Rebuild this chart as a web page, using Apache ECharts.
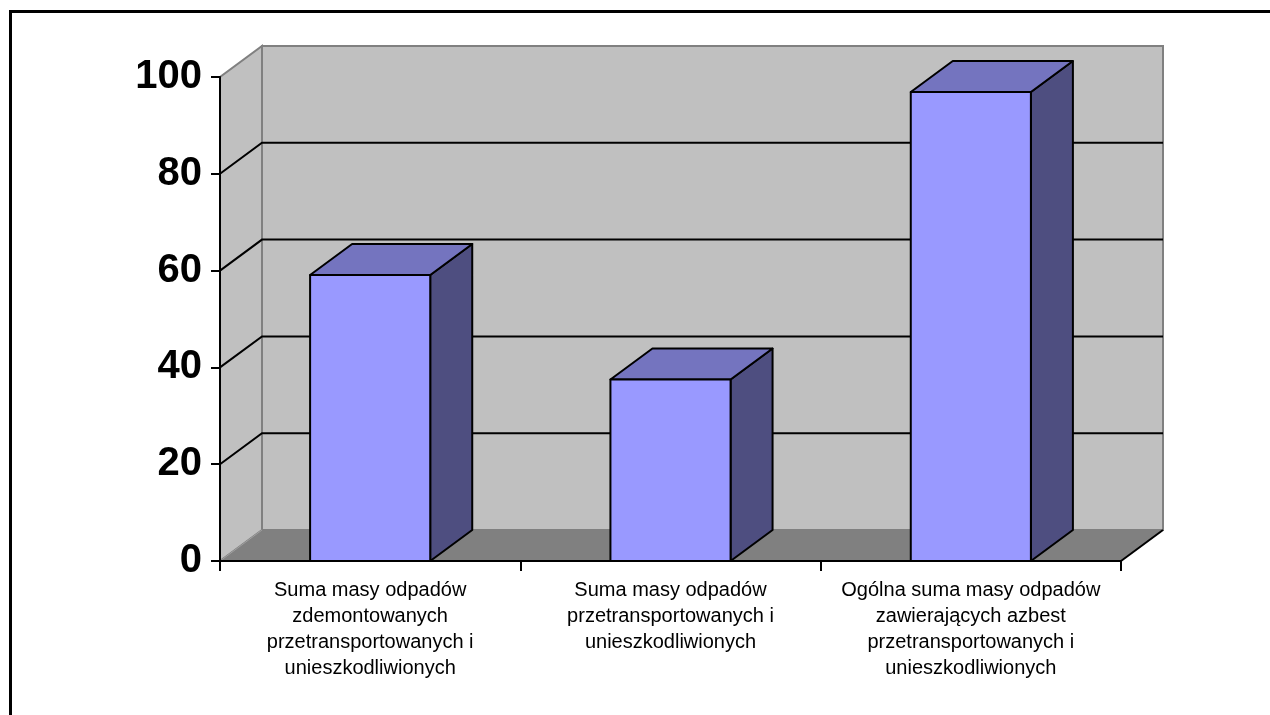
<!DOCTYPE html>
<html>
<head>
<meta charset="utf-8">
<script src="https://cdn.jsdelivr.net/npm/echarts@6/dist/echarts.min.js"></script>
<style>
html,body{margin:0;padding:0;background:#fff;}
#chart{width:1270px;height:715px;}
</style>
</head>
<body>
<div id="chart"></div>
<script>
const categories = [
  "Suma masy odpadów\nzdemontowanych\nprzetransportowanych i\nunieszkodliwionych",
  "Suma masy odpadów\nprzetransportowanych i\nunieszkodliwionych",
  "Ogólna suma masy odpadów\nzawierających azbest\nprzetransportowanych i\nunieszkodliwionych"
];
const values = [59.1, 37.5, 96.9];
const yTicks = [0, 20, 40, 60, 80, 100];

const DX = 42, DY = -31;
const FONT = "'Liberation Sans', Arial, sans-serif";

function renderWalls(params, api) {
  const cs = params.coordSys;
  const x0 = cs.x, x1 = cs.x + cs.width;
  const yTop = api.coord([0, yTicks[yTicks.length - 1]])[1];
  const yBot = api.coord([0, yTicks[0]])[1];
  const children = [];
  children.push({type:'polygon', shape:{points:[[x0+DX,yTop+DY],[x1+DX,yTop+DY],[x1+DX,yBot+DY],[x0+DX,yBot+DY]]},
    style:{fill:'#C0C0C0', stroke:'#808080', lineWidth:2}});
  children.push({type:'polygon', shape:{points:[[x0,yBot],[x0,yTop],[x0+DX,yTop+DY],[x0+DX,yBot+DY]]},
    style:{fill:'#C0C0C0', stroke:'#808080', lineWidth:2}});
  children.push({type:'polygon', shape:{points:[[x0,yBot],[x1,yBot],[x1+DX,yBot+DY],[x0+DX,yBot+DY]]},
    style:{fill:'#808080', stroke:null}});
  children.push({type:'line', shape:{x1:x0, y1:yBot, x2:x0+DX, y2:yBot+DY}, style:{stroke:'#A0A0A0', lineWidth:1}});
  yTicks.forEach(v => {
    if (v === yTicks[0] || v === yTicks[yTicks.length-1]) return;
    const y = api.coord([0, v])[1];
    children.push({type:'polyline', shape:{points:[[x0,y],[x0+DX,y+DY],[x1+DX,y+DY]]},
      style:{stroke:'#000', lineWidth:2, fill:null}});
  });
  children.push({type:'line', shape:{x1:x1, y1:yBot, x2:x1+DX, y2:yBot+DY}, style:{stroke:'#000', lineWidth:2}});
  return {type:'group', children};
}

function renderBar(params, api) {
  const idx = api.value(0);
  const top = api.coord([idx, api.value(1)]);
  const base = api.coord([idx, 0]);
  const w = api.size([1, 0])[0] * 0.4;
  const l = top[0] - w / 2, r = top[0] + w / 2;
  const t = top[1], b = base[1];
  const st = {stroke:'#000', lineWidth:2, lineJoin:'round'};
  return {type:'group', children:[
    {type:'polygon', shape:{points:[[r,b],[r,t],[r+DX,t+DY],[r+DX,b+DY]]}, style:Object.assign({fill:'#4E4E80'}, st)},
    {type:'polygon', shape:{points:[[l,t],[r,t],[r+DX,t+DY],[l+DX,t+DY]]}, style:Object.assign({fill:'#7474BF'}, st)},
    {type:'polygon', shape:{points:[[l,b],[l,t],[r,t],[r,b]]}, style:Object.assign({fill:'#9999FF'}, st)}
  ]};
}

const chart = echarts.init(document.getElementById('chart'), null, {renderer:'canvas'});
chart.setOption({
  animation:false,
  backgroundColor:'#fff',
  graphic:[{type:'rect', shape:{x:10.5,y:11.5,width:1300,height:800},
    style:{fill:null, stroke:'#000', lineWidth:3}, z:-10}],
  grid:{left:220, right:149, top:77, bottom:154, containLabel:false},
  xAxis:{type:'category', data:categories, z:10,
    axisLine:{lineStyle:{color:'#000', width:2}},
    axisTick:{show:true, interval:0, length:10, lineStyle:{color:'#000', width:2}},
    axisLabel:{interval:0, color:'#000', fontFamily:FONT, fontSize:20, lineHeight:26, margin:16, align:'center'},
    splitLine:{show:false}},
  yAxis:{type:'value', min:0, max:100, interval:20, z:10,
    axisLine:{show:true, lineStyle:{color:'#000', width:2}},
    axisTick:{show:true, length:9, lineStyle:{color:'#000', width:2}},
    axisLabel:{color:'#000', fontFamily:FONT, fontSize:40, fontWeight:'bold', margin:18, padding:[6,0,0,0]},
    splitLine:{show:false}},
  series:[
    {type:'custom', renderItem:renderWalls, data:[[0,0]], z:1, silent:true},
    {type:'custom', renderItem:renderBar, data:values.map((v,i)=>[i,v]), z:3,
     encode:{x:0,y:1}}
  ]
});
</script>
</body>
</html>
